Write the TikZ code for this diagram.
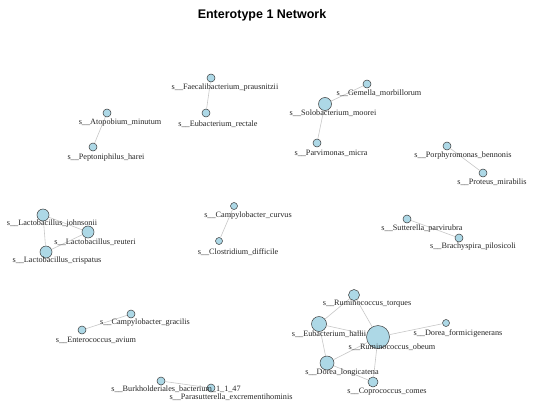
\documentclass[tikz,border=0pt]{standalone}
\usepackage{fontspec}
\setmainfont{Liberation Serif}
\newfontfamily\titlefont{Liberation Sans}
\definecolor{nodefill}{HTML}{ADD8E6}
\definecolor{nodeedge}{HTML}{3A3A3A}
\definecolor{edgecol}{HTML}{C8C8C8}
\begin{document}
\begin{tikzpicture}[x=1pt,y=-1pt,
  v/.style={circle,draw=nodeedge,fill=nodefill,line width=0.5pt,inner sep=0pt,minimum size=#1},
  v/.default=8pt,
  lab/.style={font=\fontsize{8.2}{9}\selectfont,inner sep=0pt,text=black!85},
  e/.style={draw=edgecol,line width=0.6pt}]
\useasboundingbox[fill=white] (0,0) rectangle (534,412);
\node[font=\titlefont\bfseries\fontsize{12.5}{14}\selectfont] (title) at (262,15) {Enterotype 1 Network};

% nodes
\node[v] (faec) at (211,78) {};
\node[v] (eubr) at (206,113) {};
\node[v] (atop) at (107,113) {};
\node[v] (pept) at (93,147) {};
\node[v] (gem) at (367,84) {};
\node[v=13pt] (solo) at (325,104) {};
\node[v] (parv) at (317,143) {};
\node[v] (porph) at (447,146) {};
\node[v] (prot) at (483,173) {};
\node[v=12pt] (ljoh) at (43,215) {};
\node[v=12pt] (lreu) at (88,232) {};
\node[v=12pt] (lcri) at (46,252) {};
\node[v=7pt] (ccur) at (234,206) {};
\node[v=7pt] (clos) at (219,241) {};
\node[v] (sutt) at (407,219) {};
\node[v] (brach) at (459,238) {};
\node[v] (cgra) at (131,314) {};
\node[v] (ente) at (82,330) {};
\node[v] (burk) at (161,381) {};
\node[v] (paras) at (211,388) {};
\node[v=11pt] (rtor) at (354,295) {};
\node[v=15pt] (ehal) at (319,324) {};
\node[v=23pt] (robe) at (378,337) {};
\node[v=7pt] (dfor) at (446,323) {};
\node[v=14pt] (dlon) at (327,363) {};
\node[v=10pt] (ccom) at (373,382) {};

% edges
\draw[e] (faec) -- (eubr);
\draw[e] (atop) -- (pept);
\draw[e] (solo) -- (gem);
\draw[e] (solo) -- (parv);
\draw[e] (porph) -- (prot);
\draw[e] (ljoh) -- (lreu);
\draw[e] (ljoh) -- (lcri);
\draw[e] (lreu) -- (lcri);
\draw[e] (ccur) -- (clos);
\draw[e] (sutt) -- (brach);
\draw[e] (cgra) -- (ente);
\draw[e] (burk) -- (paras);
\draw[e] (rtor) -- (ehal);
\draw[e] (rtor) -- (robe);
\draw[e] (ehal) -- (robe);
\draw[e] (ehal) -- (dlon);
\draw[e] (robe) -- (dlon);
\draw[e] (robe) -- (dfor);
\draw[e] (robe) -- (ccom);
\draw[e] (dlon) -- (ccom);

% labels
\node[lab] (faecl) at (225,88) {s\_\_Faecalibacterium\_prausnitzii};
\node[lab] (eubrl) at (218,124) {s\_\_Eubacterium\_rectale};
\node[lab] (atopl) at (120,123) {s\_\_Atopobium\_minutum};
\node[lab] (peptl) at (106,158) {s\_\_Peptoniphilus\_harei};
\node[lab] (geml) at (379,93) {s\_\_Gemella\_morbillorum};
\node[lab] (solol) at (333,113) {s\_\_Solobacterium\_moorei};
\node[lab] (parvl) at (331,153) {s\_\_Parvimonas\_micra};
\node[lab] (porphl) at (463,156) {s\_\_Porphyromonas\_bennonis};
\node[lab] (protl) at (492,182) {s\_\_Proteus\_mirabilis};
\node[lab] (ljohl) at (52,224) {s\_\_Lactobacillus\_johnsonii};
\node[lab] (lreul) at (95,242) {s\_\_Lactobacillus\_reuteri};
\node[lab] (lcril) at (57,261) {s\_\_Lactobacillus\_crispatus};
\node[lab] (ccurl) at (248,216) {s\_\_Campylobacter\_curvus};
\node[lab] (closl) at (238,252) {s\_\_Clostridium\_difficile};
\node[lab] (suttl) at (422,229) {s\_\_Sutterella\_parvirubra};
\node[lab] (brachl) at (473,247) {s\_\_Brachyspira\_pilosicoli};
\node[lab] (cgral) at (145,323) {s\_\_Campylobacter\_gracilis};
\node[lab] (entel) at (96,340) {s\_\_Enterococcus\_avium};
\node[lab] (burkl) at (176,389) {s\_\_Burkholderiales\_bacterium\_1\_1\_47};
\node[lab] (parasl) at (231,397) {s\_\_Parasutterella\_excrementihominis};
\node[lab] (rtorl) at (367,304) {s\_\_Ruminococcus\_torques};
\node[lab] (ehall) at (329,334) {s\_\_Eubacterium\_hallii};
\node[lab] (robel) at (392,347) {s\_\_Ruminococcus\_obeum};
\node[lab] (dforl) at (458,333) {s\_\_Dorea\_formicigenerans};
\node[lab] (dlonl) at (342,373) {s\_\_Dorea\_longicatena};
\node[lab] (ccoml) at (387,392) {s\_\_Coprococcus\_comes};
\end{tikzpicture}
\end{document}
